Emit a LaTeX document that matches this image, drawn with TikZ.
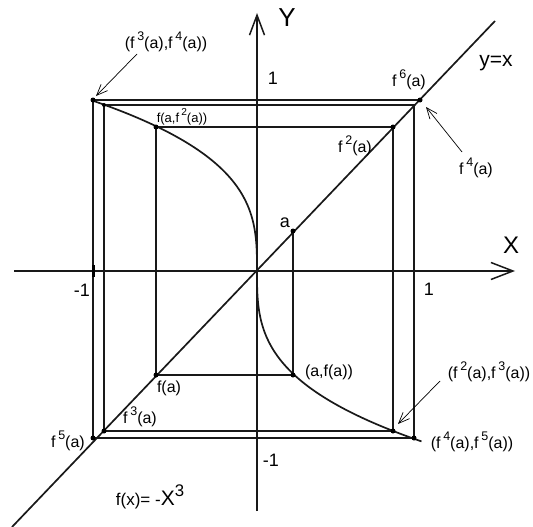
\documentclass[tikz,border=0pt]{standalone}
\usepackage{fontspec}
\setmainfont{Liberation Sans}
\usetikzlibrary{arrows.meta}
\newcommand{\sups}[1]{\,\raisebox{0.5em}{\scalebox{0.78}{#1}}}
\begin{document}
\begin{tikzpicture}[x=1pt,y=-1pt,
  web/.style={line width=1.7pt,draw=black!90},
  axisline/.style={line width=1.5pt,draw=black!90},
  dot/.style={circle,fill=black,inner sep=0pt,minimum size=5pt},
  smalldot/.style={circle,fill=black,inner sep=0pt,minimum size=4pt},
  lbl/.style={inner sep=0pt,font=\fontsize{16}{18}\selectfont},
  smalllbl/.style={inner sep=0pt,font=\fontsize{13}{15}\selectfont},
  ticklbl/.style={inner sep=0pt,font=\fontsize{18}{20}\selectfont},
  pointer/.style={line width=0.7pt,-{Straight Barb[length=11pt,width=9pt,line width=0.7pt]}}
]
\useasboundingbox (0,0) rectangle (533,527);
% axes
\coordinate (xs) at (14,271);
\coordinate (xe) at (515,271);
\coordinate (ys) at (257,511);
\coordinate (ye) at (257,13);
\draw[axisline,-{Straight Barb[length=22pt,width=17pt,line width=1.5pt]}] (xs) -- (xe);
\draw[axisline,-{Straight Barb[length=20pt,width=15pt,line width=1.5pt]}] (ys) -- (ye);
% diagonal y=x
\coordinate (ds) at (12,527);
\coordinate (de) at (495,21);
\draw[web] (ds) -- (de);
% curve
\draw[web] plot[domain=-5.47:5.48,samples=160,variable=\t] ({257+\t*\t*\t},{271+31.1*\t});
% cobweb points
\coordinate (A) at (293,231);
\coordinate (B) at (293,375);
\coordinate (C) at (156,375);
\coordinate (D) at (156,127);
\coordinate (E) at (393,127);
\coordinate (F) at (393,431);
\coordinate (G) at (104,431);
\coordinate (H) at (104,105);
\coordinate (I) at (414,105);
\coordinate (J) at (414,438);
\coordinate (K) at (93,438);
\coordinate (L) at (93,100);
\coordinate (M) at (420,100);
\draw[web] (A) -- (B) -- (C) -- (D) -- (E) -- (F) -- (G) -- (H) -- (I) -- (J) -- (K) -- (L) -- (M);
% tick at -1
\coordinate (t1) at (93,265);
\coordinate (t2) at (93,277);
\draw[line width=3pt] (t1) -- (t2);
% dots
\foreach \p in {A,B,C,D,E,F,G,J,K,L,M} \node[dot] at (\p) {};
\node[smalldot] at (H) {};
% labels
\node[inner sep=0pt,font=\fontsize{26}{28}\selectfont] (ylab) at (287,18) {Y};
\node[inner sep=0pt,font=\fontsize{24}{26}\selectfont] (xlab) at (511,245) {X};
\node[ticklbl] (one1) at (273,78) {1};
\node[ticklbl] (mone1) at (82,290) {-1};
\node[ticklbl] (one2) at (429,289) {1};
\node[ticklbl] (mone2) at (271,460) {-1};
\node[inner sep=0pt,font=\fontsize{21}{23}\selectfont] (yx) at (496,63) {y=x};
\node[inner sep=0pt,font=\fontsize{18}{20}\selectfont] (la) at (285,223) {a};
\node[lbl] (l6) at (409,80) {f\sups{6}(a)};
\node[lbl] (l2) at (355,146) {f\sups{2}(a)};
\node[lbl] (l4) at (476,168) {f\sups{4}(a)};
\node[lbl] (l34) at (166,42) {(f\sups{3}(a),f\sups{4}(a))};
\node[smalllbl] (l12) at (182,117) {f(a,f\sups{2}(a))};
\node[lbl] (laf) at (329,372) {(a,f(a))};
\node[lbl] (l1) at (169,388) {f(a)};
\node[lbl] (l3) at (140,417) {f\sups{3}(a)};
\node[lbl] (l5) at (68,441) {f\sups{5}(a)};
\node[lbl] (l23) at (489,372) {(f\sups{2}(a),f\sups{3}(a))};
\node[lbl] (l45) at (472,442) {(f\sups{4}(a),f\sups{5}(a))};
\node[inner sep=0pt,font=\fontsize{17}{19}\selectfont] (fx) at (150,497) {f(x)= -{\fontsize{21}{23}\selectfont X\raisebox{0.45em}{\scalebox{0.8}{3}}}};
% pointers
\coordinate (p34) at (137,54);
\coordinate (q34) at (96,96);
\coordinate (p4) at (462,152);
\coordinate (q4) at (426,107);
\coordinate (p23) at (440,381);
\coordinate (q23) at (398,424);
\draw[pointer] (p34) -- (q34);
\draw[pointer] (p4) -- (q4);
\draw[pointer] (p23) -- (q23);
\end{tikzpicture}
\end{document}
